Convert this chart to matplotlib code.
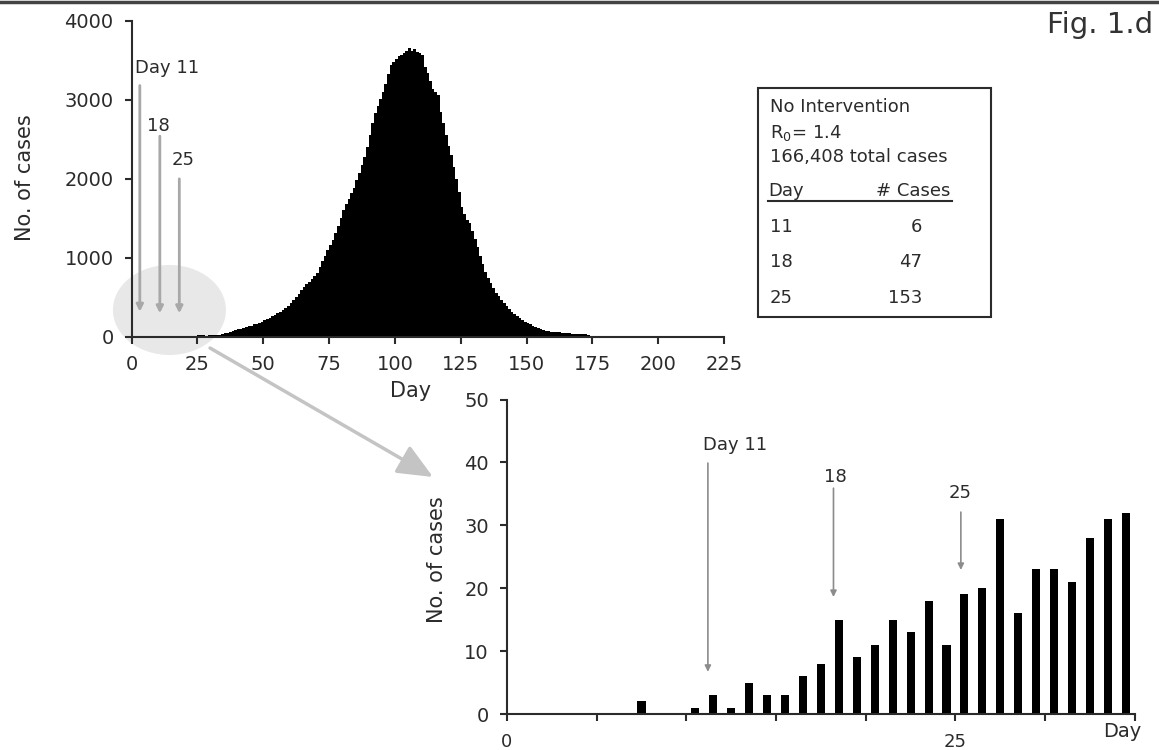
import numpy as np
import matplotlib
matplotlib.use("Agg")
import matplotlib.pyplot as plt
from matplotlib.patches import Ellipse, Rectangle, FancyArrowPatch
from matplotlib.lines import Line2D

plt.rcParams['font.family'] = ['DejaVu Sans']

# Daily new cases.
# Days 0-34 (these are also the bars of the zoomed panel).
early_cases = [0, 0, 0, 0, 0, 0, 0, 2, 0, 0,
               1, 3, 1, 5, 3, 3, 6, 8, 15, 9,
               11, 15, 13, 18, 11, 19, 20, 31, 16, 23,
               23, 21, 28, 31, 32]
# Days 35-178 (main epidemic curve).
late_cases = [45, 55, 65, 75, 85, 95, 105, 115, 125, 135,
              145, 158, 170, 182, 195, 210, 228, 245, 262, 280,
              300, 322, 345, 372, 398, 425, 462, 505, 545, 590,
              635, 668, 700, 735, 770, 805, 880, 960, 1030, 1100,
              1160, 1230, 1310, 1400, 1500, 1600, 1680, 1750, 1820, 1890,
              1980, 2070, 2170, 2270, 2400, 2550, 2700, 2830, 2920, 3010,
              3100, 3200, 3320, 3440, 3480, 3520, 3550, 3570, 3590, 3620,
              3650, 3620, 3640, 3600, 3590, 3560, 3420, 3340, 3240, 3140,
              3100, 3060, 2850, 2700, 2550, 2420, 2300, 2150, 2000, 1830,
              1650, 1560, 1480, 1440, 1340, 1240, 1140, 1030, 920, 820,
              740, 680, 615, 560, 520, 470, 425, 390, 355, 320,
              290, 260, 235, 210, 190, 175, 158, 140, 125, 110,
              98, 88, 80, 74, 68, 63, 60, 57, 55, 52,
              48, 45, 42, 40, 38, 36, 34, 32, 28, 18,
              8, 4, 2, 1]

top_xticks = [0, 25, 50, 75, 100, 125, 150, 175, 200, 225]
top_yticks = [0, 1000, 2000, 3000, 4000]
inset_xticks = [0, 5, 10, 15, 20, 25, 30, 35]
inset_xticklabels = ['0', '', '', '', '', '25', '', '']
inset_yticks = [0, 10, 20, 30, 40, 50]

marker_labels = ['Day 11', '18', '25']
table_days = ['11', '18', '25']
table_cases = ['6', '47', '153']

ink = '#2b2b2b'
arrow_grey = '#a8a8a8'

fig = plt.figure(figsize=(11.59, 7.5), dpi=100)

# grey frame line at the very top
fig.add_artist(Line2D([0, 1], [0.9967, 0.9967], transform=fig.transFigure,
                      color='#444444', lw=2.5))

# light grey "zoom" ellipse and the big arrow pointing to the inset
fig.add_artist(Ellipse((0.1462, 0.5867), 0.0975, 0.12, transform=fig.transFigure,
                       facecolor='#e8e8e8', edgecolor='none', zorder=-1))
fig.add_artist(FancyArrowPatch((0.1812, 0.536), (0.3736, 0.364),
                               transform=fig.transFigure,
                               arrowstyle='-|>,head_length=0.8,head_width=0.35',
                               mutation_scale=27, color='#c4c4c4', lw=2.5,
                               shrinkA=0, shrinkB=0, zorder=-1))

### Main epidemic curve
ax = fig.add_axes([0.1136, 0.5507, 0.5111, 0.4217])
ax.set_facecolor('none')
cases = early_cases + late_cases
edges = np.arange(len(cases) + 1)
ax.stairs(cases, edges, fill=True, color='black', linewidth=0)
ax.set_xlim(0, 225)
ax.set_ylim(0, 4000)
ax.set_xticks(top_xticks)
ax.set_yticks(top_yticks)
for s in ['top', 'right']:
    ax.spines[s].set_visible(False)
for s in ['left', 'bottom']:
    ax.spines[s].set_linewidth(1.5)
    ax.spines[s].set_color(ink)
ax.tick_params(length=5, width=1.5, colors=ink, labelsize=14, pad=8)
ax.set_xlabel('Day', fontsize=15, color=ink)
ax.xaxis.set_label_coords(0.47, -0.139)
ax.set_ylabel('No. of cases', fontsize=15, color=ink)
ax.yaxis.set_label_coords(-0.164, 0.503)

# marker arrows for days 11, 18, 25
for (x, y0, y1), lab, (tx, ty) in zip([(3.1, 3180, 320), (10.7, 2540, 300), (18.1, 2000, 300)],
                                       marker_labels,
                                       [(13.4, 3396), (10.0, 2664), (19.4, 2235)]):
    ax.annotate('', xy=(x, y1), xytext=(x, y0),
                arrowprops=dict(arrowstyle='-|>,head_length=0.4,head_width=0.2',
                                color=arrow_grey, lw=2, mutation_scale=10,
                                shrinkA=0, shrinkB=0))
    ax.text(tx, ty, lab, ha='center', va='center', fontsize=13, color=ink)

# summary box
fig.add_artist(Rectangle((0.654, 0.5773), 0.201, 0.3053, transform=fig.transFigure,
                         facecolor='white', edgecolor=ink, lw=1.5))
fig.text(0.6644, 0.8573, 'No Intervention', fontsize=13, color=ink, va='center')
fig.text(0.6644, 0.8227, r'R$_0$= 1.4', fontsize=13, color=ink, va='center')
fig.text(0.6644, 0.7907, '166,408 total cases', fontsize=13, color=ink, va='center')
fig.text(0.6630, 0.7453, 'Day', fontsize=13, color=ink, va='center')
fig.text(0.8200, 0.7453, '# Cases', fontsize=13, color=ink, va='center', ha='right')
fig.add_artist(Line2D([0.6626, 0.8214], [0.7324, 0.7324], transform=fig.transFigure,
                      color=ink, lw=1.5))
for d, c, y in zip(table_days, table_cases, [0.6973, 0.6507, 0.6027]):
    fig.text(0.6644, y, d, fontsize=13, color=ink, va='center')
    fig.text(0.7955, y, c, fontsize=13, color=ink, va='center', ha='right')

fig.text(0.9948, 0.956, 'Fig. 1.d', fontsize=21, color='#333333', ha='right',
         va='baseline')

### Zoomed panel: first 35 days
ax2 = fig.add_axes([0.4374, 0.048, 0.5418, 0.4193])
ax2.set_facecolor('none')
days = np.arange(len(early_cases))
ax2.bar(days + 0.5, early_cases, width=0.45, color='black')
ax2.set_xlim(0, 35)
ax2.set_ylim(0, 50)
ax2.set_xticks(inset_xticks)
ax2.set_xticklabels(inset_xticklabels)
ax2.set_yticks(inset_yticks)
for s in ['top', 'right']:
    ax2.spines[s].set_visible(False)
for s in ['left', 'bottom']:
    ax2.spines[s].set_linewidth(1.5)
    ax2.spines[s].set_color(ink)
ax2.tick_params(axis='y', length=5, width=1.5, colors=ink, labelsize=14, pad=8)
ax2.tick_params(axis='x', length=5, width=1.5, colors=ink, labelsize=13, pad=8.5)
ax2.set_xlabel('Day', fontsize=14, color=ink, loc='right')
ax2.xaxis.set_label_coords(1.011, -0.025)
ax2.set_ylabel('No. of cases', fontsize=15, color=ink)
ax2.yaxis.set_label_coords(-0.0955, 0.49)

for (x, y0, y1), lab, (tx, ty) in zip([(11.2, 39.9, 6.7), (18.2, 35.9, 18.6), (25.3, 32.1, 22.9)],
                                       marker_labels,
                                       [(12.7, 42.8), (18.3, 37.7), (25.25, 35.1)]):
    ax2.annotate('', xy=(x, y1), xytext=(x, y0),
                 arrowprops=dict(arrowstyle='-|>,head_length=0.4,head_width=0.2',
                                 color='#8c8c8c', lw=1.2, mutation_scale=9,
                                 shrinkA=0, shrinkB=0))
    ax2.text(tx, ty, lab, ha='center', va='center', fontsize=13, color=ink)

fig.savefig('out.png', dpi=100)
